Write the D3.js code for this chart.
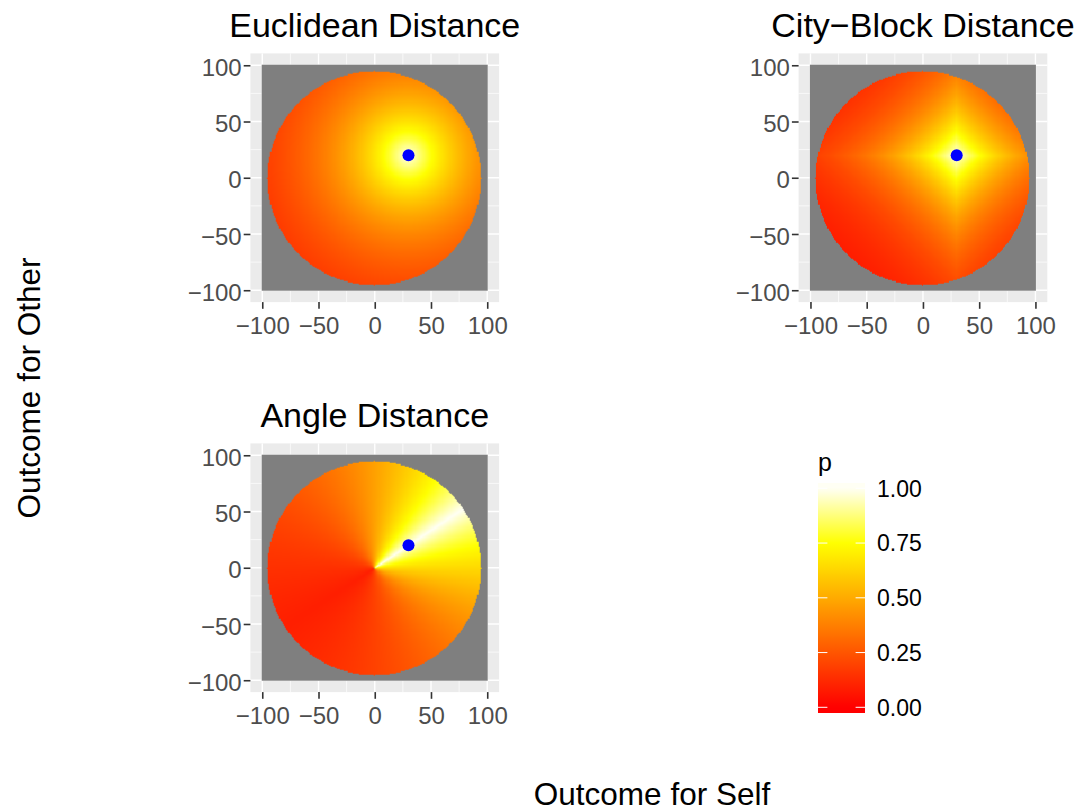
<!DOCTYPE html>
<html>
<head>
<meta charset="utf-8">
<script src="https://cdn.jsdelivr.net/npm/d3@7"></script>
<style>
  body { margin: 0; background: #fff; }
  text { font-family: "Liberation Sans", Arial, sans-serif; }
</style>
</head>
<body>
<svg id="chart" width="1081" height="812"></svg>
<script>
// values
const panelTitles = ["Euclidean Distance", "City−Block Distance", "Angle Distance"];
const panelKinds = ["euclid", "city", "angle"];
const targetPoint = [30, 20];          // blue dot: self, other
const axisTicks = [-100, -50, 0, 50, 100];
const minorTicks = [-75, -25, 25, 75];
const gridMin = -100, gridMax = 100, gridStep = 1;
const circleRadius = 95;
const decay = 75;                      // p = exp(-distance / decay)
const legendTicks = [0, 0.25, 0.5, 0.75, 1];
const colourStops = [0, 0.75, 1];
const colourValues = ["#FF0000", "#FFFF00", "#FFFFF4"];
const naColour = "#7F7F7F";

const svg = d3.select("#chart");
const size = 248.7;
const origins = [[250.4, 53.4], [798.6, 53.4], [250.4, 443.4]];
const domain = [-110.55, 110.55];

const fill = d3.scaleLinear().domain(colourStops).range(colourValues).clamp(true);

const distance = {
  euclid: (x, y) => Math.hypot(x - targetPoint[0], y - targetPoint[1]),
  city: (x, y) => Math.abs(x - targetPoint[0]) + Math.abs(y - targetPoint[1]),
  angle: (x, y) => {
    if (x === 0 && y === 0) return NaN;
    let a = Math.abs(Math.atan2(y, x) - Math.atan2(targetPoint[1], targetPoint[0])) * 180 / Math.PI;
    return a > 180 ? 360 - a : a;
  }
};

const gridValues = d3.range(gridMin, gridMax + gridStep / 2, gridStep);

panelKinds.forEach((kind, i) => {
  const [ox, oy] = origins[i];
  const x = d3.scaleLinear().domain(domain).range([ox, ox + size]);
  const y = d3.scaleLinear().domain(domain).range([oy + size, oy]);
  const g = svg.append("g");

  g.append("rect").attr("x", ox).attr("y", oy).attr("width", size).attr("height", size).attr("fill", "#EBEBEB");
  g.selectAll(".minx").data(minorTicks).join("line")
    .attr("x1", d => x(d)).attr("x2", d => x(d)).attr("y1", oy).attr("y2", oy + size)
    .attr("stroke", "#fff").attr("stroke-width", 0.7);
  g.selectAll(".miny").data(minorTicks).join("line")
    .attr("y1", d => y(d)).attr("y2", d => y(d)).attr("x1", ox).attr("x2", ox + size)
    .attr("stroke", "#fff").attr("stroke-width", 0.7);
  g.selectAll(".majx").data(axisTicks).join("line")
    .attr("x1", d => x(d)).attr("x2", d => x(d)).attr("y1", oy).attr("y2", oy + size)
    .attr("stroke", "#fff").attr("stroke-width", 1.4);
  g.selectAll(".majy").data(axisTicks).join("line")
    .attr("y1", d => y(d)).attr("y2", d => y(d)).attr("x1", ox).attr("x2", ox + size)
    .attr("stroke", "#fff").attr("stroke-width", 1.4);

  // tiles onto a canvas, then into the svg as an image
  const x0 = x(gridMin - gridStep / 2), x1 = x(gridMax + gridStep / 2);
  const y0 = y(gridMax + gridStep / 2), y1 = y(gridMin - gridStep / 2);
  const cw = Math.round(x1 - x0), ch = Math.round(y1 - y0);
  const canvas = document.createElement("canvas");
  canvas.width = cw; canvas.height = ch;
  const ctx = canvas.getContext("2d");
  const dist = distance[kind];
  gridValues.forEach(gx => {
    gridValues.forEach(gy => {
      let c = naColour;
      if (Math.hypot(gx, gy) <= circleRadius) {
        const d = dist(gx, gy);
        if (!isNaN(d)) c = fill(Math.exp(-d / decay));
      }
      const a = Math.floor(x(gx - gridStep / 2) - x0), b = Math.floor(y(gy + gridStep / 2) - y0);
      const w = Math.ceil(x(gx + gridStep / 2) - x0) - a, h = Math.ceil(y(gy - gridStep / 2) - y0) - b;
      ctx.fillStyle = c;
      ctx.fillRect(a, b, w, h);
    });
  });
  g.append("image").attr("x", x0).attr("y", y0).attr("width", cw).attr("height", ch)
    .attr("preserveAspectRatio", "none").attr("href", canvas.toDataURL());

  g.append("circle").attr("cx", x(targetPoint[0])).attr("cy", y(targetPoint[1])).attr("r", 6).attr("fill", "#0000FF");

  const ax = g.append("g").attr("transform", `translate(0,${oy + size})`)
    .call(d3.axisBottom(x).tickValues(axisTicks).tickSize(6.7).tickPadding(8));
  const ay = g.append("g").attr("transform", `translate(${ox},0)`)
    .call(d3.axisLeft(y).tickValues(axisTicks).tickSize(6.7).tickPadding(2));
  [ax, ay].forEach(a => {
    a.select(".domain").remove();
    a.selectAll(".tick line").attr("stroke", "#333333").attr("stroke-width", 1.6);
    a.selectAll(".tick text").attr("fill", "#4D4D4D").style("font-size", "24px");
  });
  ay.selectAll(".tick text").attr("dy", "0.42em");

  g.append("text").attr("x", ox + size / 2).attr("y", oy - 16.4).attr("text-anchor", "middle")
    .style("font-size", "34px").attr("fill", "#000").text(panelTitles[i]);
});

// axis titles
svg.append("text").attr("x", 652).attr("y", 805).attr("text-anchor", "middle")
  .style("font-size", "31.5px").text("Outcome for Self");
svg.append("text").attr("transform", "translate(40,388) rotate(-90)").attr("text-anchor", "middle")
  .style("font-size", "31.5px").text("Outcome for Other");

// legend
const ly = d3.scaleLinear().domain([0, 1]).range([707.3, 488.3]);
const barTop = 483, barBottom = 713, barX = 818, barW = 47;
const lo = ly.invert(barBottom), hi = ly.invert(barTop);
const grad = svg.append("defs").append("linearGradient").attr("id", "pgrad")
  .attr("x1", 0).attr("x2", 0).attr("y1", 1).attr("y2", 0);
grad.selectAll("stop").data(d3.range(0, 1.0001, 0.02)).join("stop")
  .attr("offset", d => d).attr("stop-color", d => fill(lo + d * (hi - lo)));
svg.append("rect").attr("x", barX).attr("y", barTop).attr("width", barW).attr("height", barBottom - barTop)
  .attr("fill", "url(#pgrad)");
svg.selectAll(".lt1").data(legendTicks).join("line")
  .attr("x1", barX).attr("x2", barX + 9.4).attr("y1", d => ly(d)).attr("y2", d => ly(d))
  .attr("stroke", "#fff").attr("stroke-width", 1);
svg.selectAll(".lt2").data(legendTicks).join("line")
  .attr("x1", barX + barW - 9.4).attr("x2", barX + barW).attr("y1", d => ly(d)).attr("y2", d => ly(d))
  .attr("stroke", "#fff").attr("stroke-width", 1);
svg.selectAll(".ll").data(legendTicks).join("text")
  .attr("x", 877).attr("y", d => ly(d)).attr("dy", "0.36em")
  .style("font-size", "23px").text(d3.format(".2f"));
svg.append("text").attr("x", 818).attr("y", 471).style("font-size", "25px").text("p");
</script>
</body>
</html>
